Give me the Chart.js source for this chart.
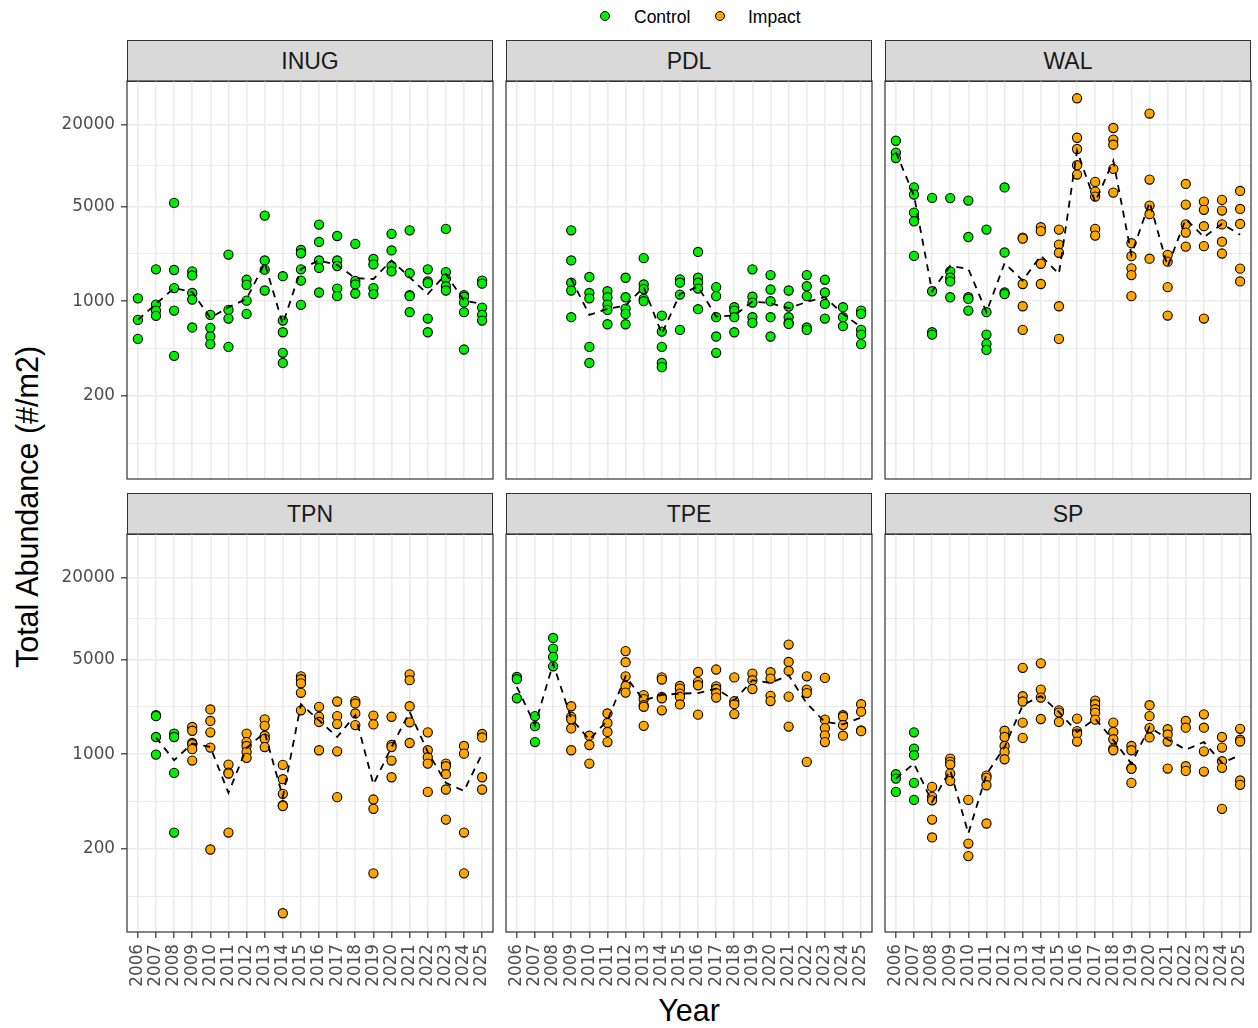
<!DOCTYPE html>
<html>
<head>
<meta charset="utf-8">
<script src="https://cdn.jsdelivr.net/npm/chart.js@4.4.1/dist/chart.umd.min.js"></script>
<style>
body{margin:0;background:#fff;width:1258px;height:1028px;position:relative;overflow:hidden;font-family:"Liberation Sans",Arial,sans-serif;}
canvas{position:absolute;}
.strip{position:absolute;box-sizing:border-box;width:366px;height:42px;background:#D9D9D9;border:1.2px solid #333;color:#1A1A1A;font-size:23px;text-align:center;line-height:40px;}
.lg-dot{position:absolute;width:8px;height:8px;border-radius:50%;border:1px solid #000;}
.lg-txt{position:absolute;font-size:17.5px;color:#000;line-height:20px;}
.title{position:absolute;font-size:30.5px;color:#000;white-space:nowrap;}
</style>
</head>
<body>
<div class="lg-dot" style="left:600px;top:11px;background:#00EE00"></div>
<div class="lg-txt" style="left:634px;top:7px">Control</div>
<div class="lg-dot" style="left:715px;top:11px;background:#FFA500"></div>
<div class="lg-txt" style="left:748px;top:7px">Impact</div>
<div class="title" style="left:27px;top:507px;transform:translate(-50%,-50%) rotate(-90deg)">Total Abundance (#/m2)</div>
<div class="title" style="left:689px;top:1010px;transform:translate(-50%,-50%)">Year</div>
<script>
var years = [2006,2007,2008,2009,2010,2011,2012,2013,2014,2015,2016,2017,2018,2019,2020,2021,2022,2023,2024,2025];
var yLabels = [200, 1000, 5000, 20000];

// one list of values per year
var inugControl = [[1050,728,527],[1720,945,853,780],[5320,1700,1250,853,395],[1660,1550,1150,1030,640],[793,636,549,482],[2210,863,745,460],[1440,1320,1010,806],[4290,2000,1710,1200],[1530,720,590,416,350],[2390,2260,1720,1420,940],[3680,2740,2000,1760,1160],[3030,2000,1820,1240,1090],[2650,1410,1330,1140],[2050,1870,1250,1130],[3140,2370,1820,1660],[3340,1610,1110,1090,830],[1720,1400,1360,745,590],[3420,1640,1470,1290,1200],[1110,1080,980,830,440],[1420,1350,898,793,720]];
var inugImpact = [];
var inugMean = [728,955,1250,1170,753,903,1040,1910,680,1730,2000,1850,1480,1460,2000,1500,1130,1590,1010,955];

var pdlControl = [[],[],[],[3340,2000,1370,1200,762],[1510,1150,1050,460,350],[1185,1070,945,863,676],[1490,1070,883,806,676],[2080,1330,1230,1040,1000],[784,597,460,350,326],[1450,1370,1120,614],[2310,1490,1370,1240,873],[1270,1090,762,549,416],[903,853,762,590],[1720,1080,978,762,692],[1560,1220,1000,762,549],[1200,913,762,696,680],[1560,1290,1090,640,614],[1440,1160,955,745],[903,762,654],[853,806,614,567,482]];
var pdlImpact = [];
var pdlMean = [null,null,null,1460,793,878,929,1270,574,1130,1280,770,784,995,967,888,989,1070,806,643];

var walControl = [[15300,12500,11400],[6930,6130,4510,3890,2160],[5790,1185,590,567],[5770,1660,1490,1400,1070],[5530,2980,1070,1040,853],[3380,830,567,484,437],[6920,2290,1160,1130]];
var walImpact = [[],[],[],[],[],[],[],[2950,2900,1340,918,614],[3520,3290,1890,1340],[3380,2620,2280,918,527],[31500,16100,13300,10100,8610],[7600,6450,5920,3420,3050],[19000,15600,14300,9480,6340],[2680,2150,1750,1560,1090],[24300,7910,5080,4390,2060],[2200,1960,1270,784],[7340,5170,3690,3210,2530],[5440,4730,3580,2550,745],[5600,4670,3690,2750,2250],[6520,4800,3720,1740,1400]];
var walMean = [12600,6030,1185,1830,1730,830,1910,1420,2170,1590,12900,5390,10900,2200,5390,1800,4050,2970,3720,3100];

var tpnControl = [[],[1940,1910,1340,994],[1420,1340,728,264]];
var tpnImpact = [[],[],[],[1590,1490,1210,1185,1090,898],[2140,1760,1450,1120,198],[838,732,720,264],[1420,1230,1150,1040,940],[1810,1620,1370,1300,1130],[834,654,510,420,414,67],[3760,3580,3340,2840,2110],[2240,1890,1730,1070],[2450,1910,1670,1050,482],[2470,2370,2000,1640],[1930,1660,463,395,132],[1890,1170,1130,898,676],[3890,3520,2260,1720,1210],[1450,1070,950,853,527],[853,815,712,549,329],[1150,1010,264,132],[1410,1330,676,549]];
var tpnMean = [null,1330,903,1200,1130,518,1110,1450,484,2340,1780,1340,1940,600,1130,2050,1040,614,536,1010];

var tpeControl = [[3720,3580,2590],[1910,1610,1230],[7220,6030,5230,4460]];
var tpeImpact = [[],[],[],[2260,1890,1810,1550,1070],[1370,1170,853],[2000,1700,1460,1230],[5770,4780,3760,3190,2850],[2730,2550,2300,2240,1620],[3690,3560,2650,2590,2110],[3190,3050,2800,2650,2330],[4050,3420,3230,1960],[4220,3170,3030,2830,2620],[3690,2460,2340,1980],[3940,3520,3030],[4030,3620,2700,2470],[6450,4800,4120,2660,1600],[3760,3000,2830,878],[3660,1800,1560,1380,1230],[1940,1890,1640,1370],[2340,2060,1500,1480]];
var tpeMean = [3140,1640,4670,1830,1280,1780,3760,2500,2740,2800,2830,3050,2500,3520,3360,3830,2370,1730,1660,1870];

var spControl = [[712,661,527],[1450,1100,983,614,460]];
var spImpact = [[],[],[574,484,457,329,243],[929,878,839,720,636],[460,219,177],[696,669,590,308],[1490,1340,1150,1040,918],[4340,2680,2450,1710,1320],[4690,3000,2620,1820],[2110,2030,1730],[1830,1480,1420,1240],[2490,2340,2150,2020,1800],[1710,1460,1290,1100,1070],[1150,1070,793,780,614],[2300,1910,1560,1330],[1530,1400,1240,784],[1760,1570,815,753],[1970,1570,1050,745],[1340,1120,888,793,395],[1540,1280,1240,640,594]];
var spMean = [661,853,445,762,260,712,1130,2300,2690,2050,1460,1830,1270,853,1590,1290,1080,1230,863,983];

var panels = [
	{name: "INUG", control: inugControl, impact: inugImpact, mean: inugMean},
	{name: "PDL", control: pdlControl, impact: pdlImpact, mean: pdlMean},
	{name: "WAL", control: walControl, impact: walImpact, mean: walMean},
	{name: "TPN", control: tpnControl, impact: tpnImpact, mean: tpnMean},
	{name: "TPE", control: tpeControl, impact: tpeImpact, mean: tpeMean},
	{name: "SP", control: spControl, impact: spImpact, mean: spMean}
];

var GREEN = "#00EE00", ORANGE = "#FFA500";
var TICKFONT = "'DejaVu Sans', sans-serif";
var colX = [127, 506, 885], rowY = [81, 534];
var PW = 366, PH = 398, AXW = 70, AXH = 70;

// major breaks plus the minor lines half way between them (log space)
var yGrid = [Math.sqrt(40 * 200)];
for (var i = 0; i < yLabels.length; i++) {
	yGrid.push(yLabels[i]);
	if (i < yLabels.length - 1) yGrid.push(Math.sqrt(yLabels[i] * yLabels[i + 1]));
}
function isMajor(v) { return yLabels.indexOf(v) >= 0; }

function toPoints(lists) {
	var out = [];
	for (var i = 0; i < lists.length; i++) {
		(lists[i] || []).forEach(function(v) { out.push({x: years[i], y: v}); });
	}
	return out;
}
function meanPoints(arr) {
	var out = [];
	arr.forEach(function(v, i) { if (v != null) out.push({x: years[i], y: v}); });
	return out;
}

var panelBorder = {
	id: "panelBorder",
	afterDraw: function(chart) {
		var a = chart.chartArea, c = chart.ctx;
		c.save();
		c.strokeStyle = "#333333";
		c.lineWidth = 1.2;
		c.strokeRect(a.left, a.top, a.right - a.left, a.bottom - a.top);
		c.restore();
	}
};

panels.forEach(function(p, idx) {
	var col = idx % 3, row = Math.floor(idx / 3);
	var left = colX[col], top = rowY[row];
	var showX = row === 1, showY = col === 0;

	var strip = document.createElement("div");
	strip.className = "strip";
	strip.style.left = left + "px";
	strip.style.top = (top - 41) + "px";
	strip.textContent = p.name;
	document.body.appendChild(strip);

	var cv = document.createElement("canvas");
	cv.width = AXW + PW + 1;
	cv.height = 1 + PH + AXH;
	cv.style.left = (left - AXW) + "px";
	cv.style.top = (top - 1) + "px";
	document.body.appendChild(cv);

	new Chart(cv.getContext("2d"), {
		type: "scatter",
		data: {
			datasets: [{
				type: "line",
				data: meanPoints(p.mean),
				borderColor: "#000",
				borderWidth: 1.8,
				borderDash: [7, 6],
				pointRadius: 0,
				fill: false,
				tension: 0,
				order: 0
			}, {
				label: "Control",
				data: toPoints(p.control),
				backgroundColor: GREEN,
				borderColor: "#000",
				borderWidth: 1.1,
				pointRadius: 4.6,
				order: 1
			}, {
				label: "Impact",
				data: toPoints(p.impact),
				backgroundColor: ORANGE,
				borderColor: "#000",
				borderWidth: 1.1,
				pointRadius: 4.6,
				order: 1
			}]
		},
		options: {
			responsive: false,
			animation: false,
			devicePixelRatio: 1,
			layout: {autoPadding: false, padding: {top: 1, right: 1, left: 0, bottom: 0}},
			plugins: {legend: {display: false}, tooltip: {enabled: false}},
			scales: {
				x: {
					type: "linear",
					min: 2005.4,
					max: 2025.6,
					afterBuildTicks: function(s) { s.ticks = years.map(function(v) { return {value: v}; }); },
					afterFit: function(s) { s.height = AXH; s.paddingLeft = 0; s.paddingRight = 0; },
					grid: {color: "#EBEBEB", lineWidth: 1.6, drawTicks: showX, tickLength: 6, tickColor: "#333333", tickWidth: 1.2},
					border: {display: false},
					ticks: {
						display: showX, autoSkip: false, minRotation: 90, maxRotation: 90, padding: 6,
						color: "#4D4D4D", font: {family: TICKFONT, size: 16.8},
						callback: function(v) { return String(v); }
					}
				},
				y: {
					type: "logarithmic",
					min: 48.7,
					max: 42250,
					afterBuildTicks: function(s) { s.ticks = yGrid.map(function(v) { return {value: v}; }); },
					afterFit: function(s) { s.width = AXW; s.paddingTop = 0; s.paddingBottom = 0; },
					grid: {
						color: "#EBEBEB",
						lineWidth: function(ctx) { return ctx.tick && isMajor(ctx.tick.value) ? 1.6 : 1.1; },
						drawTicks: showY, tickLength: 6, tickWidth: 1.2,
						tickColor: function(ctx) { return ctx.tick && isMajor(ctx.tick.value) ? "#333333" : "rgba(0,0,0,0)"; }
					},
					border: {display: false},
					ticks: {
						display: showY, autoSkip: false, padding: 6,
						color: "#4D4D4D", font: {family: TICKFONT, size: 16.8},
						callback: function(v) { return isMajor(v) ? String(v) : ""; }
					}
				}
			}
		},
		plugins: [panelBorder]
	});
});
</script>
</body>
</html>
